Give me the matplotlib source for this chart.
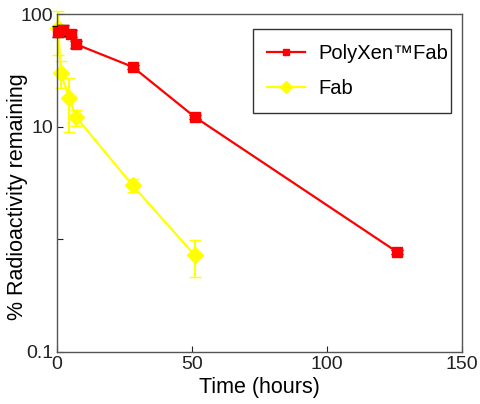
import numpy as np
import matplotlib
matplotlib.use("Agg")
import matplotlib.pyplot as plt
from matplotlib.lines import Line2D
from matplotlib.patches import Rectangle

plt.rcParams['font.family'] = ['Liberation Sans', 'DejaVu Sans']

# PolyXen(TM)Fab clearance
polyTime = [0.5, 2, 5, 7, 28, 51, 126]
polyVal = [70, 72, 67, 54, 34, 12.2, 0.77]
polyErr = [8, 8, 5, 4, 1.5, 0.5, 0.03]

# Fab clearance
fabTime = [0.5, 1.3, 4.5, 7, 28, 51]
fabVal = [75, 30, 18, 12.2, 3.0, 0.72]
fabErr = [32, 8, 9, 2, 0.4, 0.26]

xTicks = [0, 50, 100, 150]
yTicks = [0.1, 1, 10, 100]
yTickLabels = ['0.1', '', '10', '100']

RED = '#ff0000'
YELLOW = '#ffff00'


def plotStuff():
    fig = plt.figure(figsize=(4.8, 4.04), dpi=100)
    ax = fig.add_axes([0.119, 0.1295, 0.843, 0.8355])

    ax.errorbar(fabTime, fabVal, yerr=fabErr, color=YELLOW, ecolor=YELLOW,
                marker='D', markersize=8, linewidth=1.6, elinewidth=1.6,
                capsize=4, zorder=2, clip_on=False)
    ax.errorbar(polyTime, polyVal, yerr=polyErr, color=RED, ecolor='black',
                marker='s', markersize=7, linewidth=1.6, elinewidth=1.2,
                capsize=4, zorder=3, clip_on=False)

    ax.set_yscale('log')
    ax.set_xlim(0, 150)
    ax.set_ylim(0.1, 100)
    ax.set_xticks(xTicks)
    ax.set_xticklabels([str(t) for t in xTicks])
    ax.set_yticks(yTicks)
    ax.set_yticklabels(yTickLabels)
    ax.yaxis.set_minor_locator(matplotlib.ticker.NullLocator())
    ax.tick_params(direction='in', length=4, labelsize=14, colors='#222222',
                   top=False, right=False, pad=3)
    for sp in ax.spines.values():
        sp.set_color('#555555')
        sp.set_linewidth(1.0)

    ax.set_xlabel('Time (hours)', fontsize=15.5, labelpad=3)
    ax.set_ylabel('% Radioactivity remaining', fontsize=15.5)
    ax.yaxis.set_label_coords(-0.072, 0.458)

    # legend box drawn by hand (text sits close to the right edge)
    box = Rectangle((0.484, 0.7068), 0.9735 - 0.484, 0.9556 - 0.7068,
                    transform=ax.transAxes, facecolor='white',
                    edgecolor='#333333', linewidth=1.0, zorder=4)
    ax.add_patch(box)

    handles = [Line2D([], [], color=RED, marker='s', markersize=5, linewidth=1.6),
               Line2D([], [], color=YELLOW, marker='D', markersize=6, linewidth=1.6)]
    labels = ['PolyXen\u2122Fab', 'Fab']
    leg = ax.legend(handles, labels, loc='center right',
                    bbox_to_anchor=(0.9735, 0.8312), borderaxespad=0,
                    fontsize=14.5, frameon=False, borderpad=0.15,
                    labelspacing=0.8, handlelength=1.9, handletextpad=0.65)
    leg.set_zorder(5)

    fig.savefig('out.png', dpi=100)


def main():
    plotStuff()


if __name__ == "__main__":
    main()
